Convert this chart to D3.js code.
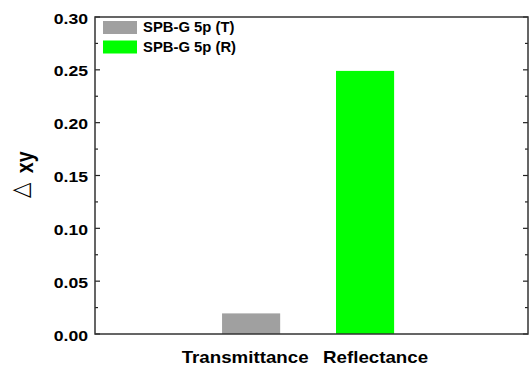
<!DOCTYPE html>
<html><head><meta charset="utf-8">
<script src="https://cdn.jsdelivr.net/npm/d3@7"></script>
<style>body{margin:0;background:#fff}svg{display:block}text{font-family:"Liberation Sans",Arial,sans-serif;font-weight:bold;fill:#000}</style>
</head><body>
<script>
const categories = ["Transmittance", "Reflectance"];
const seriesNames = ["SPB-G 5p (T)", "SPB-G 5p (R)"];
const values = [0.0195, 0.249];
const colors = ["#a0a0a0", "#00ff00"];
const yTicks = [0, 0.05, 0.10, 0.15, 0.20, 0.25, 0.30];

const W = 530, H = 367;
const L = 95, R = 528, T = 17, B = 334;
const svg = d3.select("body").append("svg").attr("width", W).attr("height", H);

const x = d3.scaleLinear().domain([-0.37, 3.43]).range([L, R]);
const y = d3.scaleLinear().domain([0, 0.30]).range([B, T]);
const bw = x(0.51) - x(0);
const fmt = d3.format(".2f");

svg.selectAll("rect.bar").data(values).join("rect").attr("class","bar")
  .attr("x", (d,i) => x(i+1) - bw/2).attr("width", bw)
  .attr("y", d => y(d)).attr("height", d => B - y(d))
  .attr("fill", (d,i) => colors[i]);

svg.append("g").selectAll("text").data(yTicks).join("text")
  .attr("transform", d => `translate(88,${y(d)+6.5}) scale(1.19,1)`)
  .attr("text-anchor","end").style("font-size","14.8px").text(d => fmt(d));

const minor = d3.range(0, 0.3001, 0.025);
const tickG = svg.append("g");
minor.forEach((v,i) => {
  const len = (i % 2 === 0) ? 5 : 3;
  tickG.append("line").attr("x1", L).attr("x2", L+len).attr("y1", y(v)).attr("y2", y(v)).attr("stroke","#222").attr("stroke-width",1.2);
  tickG.append("line").attr("x1", R).attr("x2", R-len).attr("y1", y(v)).attr("y2", y(v)).attr("stroke","#222").attr("stroke-width",1.2);
});

svg.append("rect").attr("x", L).attr("y", T).attr("width", R-L).attr("height", B-T)
  .attr("fill","none").attr("stroke","#333").attr("stroke-width",1.5);

const labelShift = [-6, 10.5];
svg.append("g").selectAll("text").data(categories).join("text")
  .attr("transform", (d,i) => `translate(${x(i+1)+labelShift[i]},363) scale(1.115,1)`)
  .attr("text-anchor","middle").style("font-size","16.8px").text(d => d);

const yt = svg.append("text").attr("transform", "translate(33,198) rotate(-90) scale(1,1.19)");
yt.append("tspan").attr("dy", -4).style("font-size","20px").style("font-weight","normal").style("font-family","DejaVu Sans").text("\u25B3");
yt.append("tspan").attr("dy", 4).attr("dx", 4).style("font-size","19.5px").text(" xy");

const lg = svg.append("g");
seriesNames.forEach((n,i) => {
  lg.append("rect").attr("x",103).attr("y",21+i*19.5).attr("width",34).attr("height",13).attr("fill",colors[i]);
  lg.append("text").attr("transform", `translate(143,${32.3+i*20}) scale(1.06,1)`).style("font-size","14px").text(n);
});
</script>
</body></html>
